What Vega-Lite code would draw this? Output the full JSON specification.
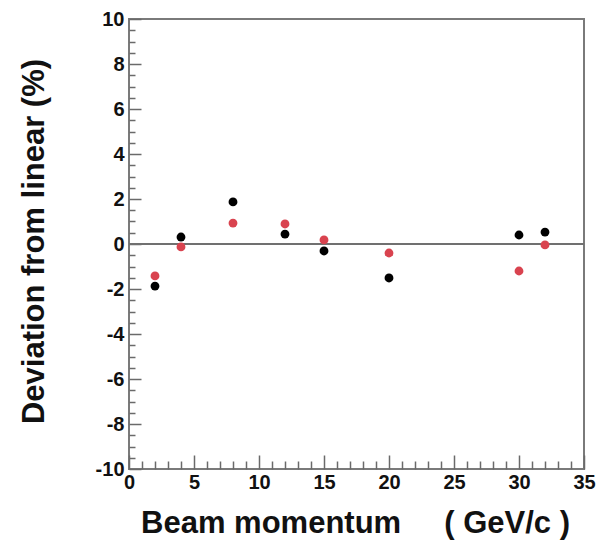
{
  "$schema": "https://vega.github.io/schema/vega-lite/v6.json",
  "autosize": "none",
  "width": 455,
  "height": 450,
  "padding": {"left": 129, "top": 19, "right": 22, "bottom": 72},
  "background": "white",
  "config": {
    "view": {"stroke": "#7a7a7a", "strokeWidth": 2},
    "font": "Liberation Sans"
  },
  "data": {
    "values": [
      {"p": 2, "dev": -1.87, "series": "A"},
      {"p": 4, "dev": 0.31, "series": "A"},
      {"p": 8, "dev": 1.87, "series": "A"},
      {"p": 12, "dev": 0.44, "series": "A"},
      {"p": 15, "dev": -0.31, "series": "A"},
      {"p": 20, "dev": -1.51, "series": "A"},
      {"p": 30, "dev": 0.4, "series": "A"},
      {"p": 32, "dev": 0.53, "series": "A"},
      {"p": 2, "dev": -1.42, "series": "B"},
      {"p": 4, "dev": -0.13, "series": "B"},
      {"p": 8, "dev": 0.93, "series": "B"},
      {"p": 12, "dev": 0.89, "series": "B"},
      {"p": 15, "dev": 0.18, "series": "B"},
      {"p": 20, "dev": -0.4, "series": "B"},
      {"p": 30, "dev": -1.2, "series": "B"},
      {"p": 32, "dev": -0.04, "series": "B"}
    ]
  },
  "resolve": {"axis": {"x": "independent", "y": "independent"}},
  "layer": [
    {
      "mark": {"type": "rule", "color": "#707070", "strokeWidth": 1.5},
      "encoding": {
        "y": {"datum": 0, "type": "quantitative", "scale": {"domain": [-10, 10], "nice": false, "zero": false}, "axis": null}
      }
    },
    {
      "mark": {"type": "point", "filled": true, "opacity": 0},
      "encoding": {
        "x": {"field": "p", "type": "quantitative", "scale": {"domain": [0, 35], "nice": false, "zero": false},
          "axis": {"orient": "bottom", "values": [0,5,10,15,20,25,30,35], "labels": false, "ticks": true, "tickSize": -14, "tickColor": "#6a6a6a", "tickWidth": 1.5, "domain": false, "grid": false, "title": null}},
        "y": {"field": "dev", "type": "quantitative", "scale": {"domain": [-10, 10], "nice": false, "zero": false},
          "axis": {"orient": "left", "values": [-10,-8,-6,-4,-2,0,2,4,6,8,10], "labels": false, "ticks": true, "tickSize": -12, "tickColor": "#6a6a6a", "tickWidth": 1.5, "domain": false, "grid": false, "title": null}}
      }
    },
    {
      "mark": {"type": "point", "filled": true, "opacity": 0},
      "encoding": {
        "x": {"field": "p", "type": "quantitative",
          "axis": {"orient": "bottom", "values": [1,2,3,4,6,7,8,9,11,12,13,14,16,17,18,19,21,22,23,24,26,27,28,29,31,32,33,34], "labels": false, "ticks": true, "tickSize": -8, "tickColor": "#6a6a6a", "tickWidth": 1.5, "domain": false, "grid": false, "title": null}},
        "y": {"field": "dev", "type": "quantitative",
          "axis": {"orient": "left", "values": [-9.5,-9,-8.5,-7.5,-7,-6.5,-5.5,-5,-4.5,-3.5,-3,-2.5,-1.5,-1,-0.5,0.5,1,1.5,2.5,3,3.5,4.5,5,5.5,6.5,7,7.5,8.5,9,9.5], "labels": false, "ticks": true, "tickSize": -6, "tickColor": "#6a6a6a", "tickWidth": 1.5, "domain": false, "grid": false, "title": null}}
      }
    },
    {
      "mark": {"type": "circle", "size": 78, "opacity": 1},
      "encoding": {
        "x": {"field": "p", "type": "quantitative",
          "axis": {"orient": "bottom", "values": [0,5,10,15,20,25,30,35], "ticks": false, "domain": false, "grid": false,
            "labelFont": "Liberation Sans", "labelFontWeight": "bold", "labelFontSize": 20, "labelColor": "#111111", "labelPadding": 3, "labelFlush": false, "labelOverlap": false, "labelBound": false,
            "title": "Beam momentum\u00a0\u00a0\u00a0\u00a0\u00a0( GeV/c )", "titleFont": "Liberation Sans", "titleFontWeight": "bold", "titleFontSize": 31, "titleColor": "#111111",
            "titleX": 226, "titleY": 63, "titleBaseline": "alphabetic", "titleAnchor": "middle", "titleAlign": "center"}},
        "y": {"field": "dev", "type": "quantitative",
          "axis": {"orient": "left", "values": [-10,-8,-6,-4,-2,0,2,4,6,8,10], "ticks": false, "domain": false, "grid": false,
            "labelExpr": "replace(datum.label, '\u2212', '-')",
            "labelFont": "Liberation Sans", "labelFontWeight": "bold", "labelFontSize": 20, "labelColor": "#111111", "labelPadding": 5, "labelFlush": false, "labelOverlap": false, "labelBound": false, "labelBaseline": "middle",
            "title": "Deviation from linear (%)", "titleFont": "Liberation Sans", "titleFontWeight": "bold", "titleFontSize": 31, "titleColor": "#111111",
            "titleX": -86, "titleY": 222, "titleBaseline": "alphabetic", "titleAngle": -90, "titleAlign": "center", "titleAnchor": "middle"}},
        "color": {"field": "series", "type": "nominal", "scale": {"domain": ["A", "B"], "range": ["#000000", "#d9434f"]}, "legend": null}
      }
    }
  ]
}
